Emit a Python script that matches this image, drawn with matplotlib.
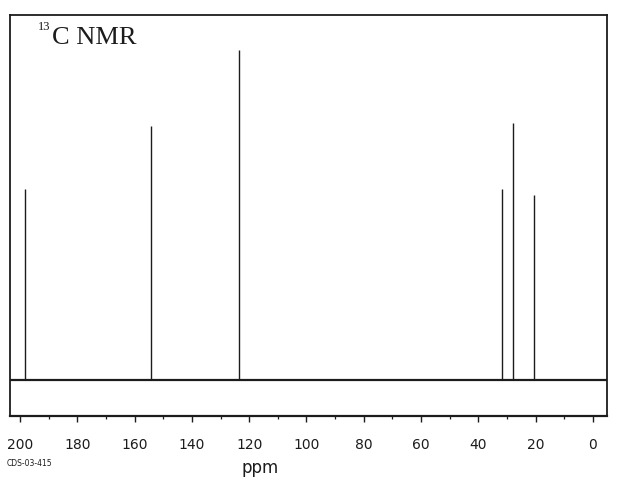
import matplotlib
matplotlib.use("Agg")
import matplotlib.pyplot as plt
from matplotlib.ticker import MultipleLocator

# ---- data (mesityl oxide, 13C) ----
peak_ppm = [198.1, 154.2, 123.5, 31.8, 27.8, 20.6]
peak_height = [58, 77, 100, 58, 78, 56]
tick_ppm = [200, 180, 160, 140, 120, 100, 80, 60, 40, 20, 0]
tick_text = ["200", "180", "160", "140", "120", "100", "80", "60", "40", "20", "0"]

INK = "#1c1c1c"

fig = plt.figure(figsize=(6.21, 4.84), dpi=100, facecolor="white")
ax = fig.add_axes([10 / 621, 1 - 416 / 484, 597 / 621, 401 / 484])

# baseline + stick peaks
ax.axhline(0, color=INK, linewidth=1.6)
ax.vlines(peak_ppm, 0, peak_height, color=INK, linewidth=1.0)

ax.set_xlim(203.5, -4.9)
ax.set_ylim(-10.9, 110.6)

for side in ax.spines.values():
    side.set_color(INK)
    side.set_linewidth(1.3)
ax.spines["bottom"].set_linewidth(1.6)

ax.set_yticks([])
ax.set_xticks(tick_ppm)
ax.set_xticklabels(tick_text)
ax.xaxis.set_minor_locator(MultipleLocator(10))
ax.tick_params(axis="x", which="major", direction="out", length=4.5,
               width=1.0, color=INK, pad=11, labelsize=10, labelcolor=INK)
ax.tick_params(axis="x", which="minor", direction="out", length=2.2,
               width=0.9, color=INK)

# "13C NMR" title inside the frame, serif like the original print
fig.text(38 / 621, 1 - 27 / 484, "13", fontsize=9, family="Liberation Serif",
         color=INK, ha="left", va="center")
fig.text(52 / 621, 1 - 38 / 484, "C NMR", fontsize=19,
         family="Liberation Serif", color=INK, ha="left", va="center")

fig.text(260 / 621, 1 - 468 / 484, "ppm", fontsize=12, color=INK,
         ha="center", va="center")
fig.text(7 / 621, 1 - 463 / 484, "CDS-03-415", fontsize=5.5, color=INK,
         ha="left", va="center")

fig.savefig("out.png", dpi=100, facecolor="white")
